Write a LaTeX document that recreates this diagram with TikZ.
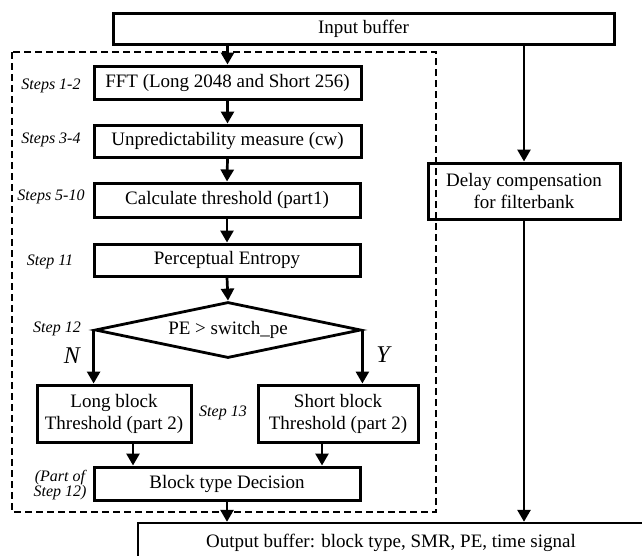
\documentclass[tikz,border=0pt]{standalone}
\usepackage{fontspec}
\setmainfont{Liberation Serif}
\usetikzlibrary{arrows.meta,shapes.geometric}
\begin{document}
\begin{tikzpicture}[x=1pt,y=-1pt,
  box/.style={draw, line width=3pt, inner sep=0pt, align=center,
              font=\fontsize{19}{22}\selectfont},
  arr/.style={line width=2.7pt, -{Triangle[width=13pt,length=12pt]}},
  lbl/.style={inner sep=0pt, align=center, font=\fontsize{16}{15}\selectfont\itshape},
  yn/.style={inner sep=0pt, font=\fontsize{24}{26}\selectfont\itshape},
  group/.style={draw, dashed, line width=2pt, dash pattern=on 7pt off 4pt},
]
\clip (0,0) rectangle (642,555);

% dashed frame round the psychoacoustic steps
\draw[group] (12,52) rectangle (436,512);

% processing blocks
\node[box, minimum width=501pt, minimum height=31pt] (in)  at (363.5,28.5) {Input buffer};
\node[box, minimum width=267pt, minimum height=33pt] (fft) at (227.5,82.5) {FFT (Long 2048 and Short 256)};
\node[box, minimum width=267pt, minimum height=32pt] (unp) at (227.5,141) {Unpredictability measure (cw)};
\node[box, minimum width=266pt, minimum height=34pt] (thr) at (227,200) {Calculate threshold (part1)};
\node[box, minimum width=266pt, minimum height=32pt] (pe)  at (227,260) {Perceptual Entropy};
\node[draw, diamond, line width=2.8pt, inner sep=0pt, aspect=4.75,
      minimum width=266pt, minimum height=56pt,
      font=\fontsize{19}{22}\selectfont] (dec) at (228,330) {PE > switch\_pe};
\node[box, minimum width=154pt, minimum height=57pt] (lng) at (114,413.5) {Long block\\Threshold (part 2)};
\node[box, minimum width=160pt, minimum height=57pt] (sht) at (338,413.5) {Short block\\Threshold (part 2)};
\node[box, minimum width=266pt, minimum height=33pt] (blk) at (227,483.5) {Block type Decision};
\node[box, minimum width=192pt, minimum height=56pt] (dly) at (524,191) {Delay compensation\\for filterbank};
\node[box, line width=2.4pt, minimum width=506pt, minimum height=40pt] (out) at (391,543)
  {Output buffer: block type, SMR, PE, time signal};

% step labels
\node[lbl] (l1)  at (51,86)   {Steps 1-2};
\node[lbl] (l2)  at (51,140)  {Steps 3-4};
\node[lbl] (l3)  at (51,197)  {Steps 5-10};
\node[lbl] (l4)  at (50,262)  {Step 11};
\node[lbl] (l5)  at (57,329)  {Step 12};
\node[lbl] (l6)  at (223,413) {Step 13};
\node[lbl] (l7)  at (60,485)  {(Part of\\Step 12)};
\node[yn]  (no)  at (72,356)  {N};
\node[yn]  (yes) at (383,355) {Y};

% connectors
\draw[arr] (fft.north |- in.south) -- (fft.north);
\draw[arr] (fft.south) -- (unp.north);
\draw[arr] (unp.south) -- (thr.north);
\draw[arr] (thr.south) -- (pe.north);
\draw[arr] (pe.south) -- (dec.north);
\draw[arr] (dec.west) -- (dec.west |- lng.north);
\draw[arr] (dec.east) -- (dec.east |- sht.north);
\draw[arr] ([xshift=19pt]lng.south) -- ([xshift=19pt]lng.south |- blk.north);
\draw[arr] ([xshift=-16pt]sht.south) -- ([xshift=-16pt]sht.south |- blk.north);
\draw[arr] (blk.south) -- (blk.south |- out.north);
\draw[arr] (dly.north |- in.south) -- (dly.north);
\draw[arr] (dly.south) -- (dly.south |- out.north);
\end{tikzpicture}
\end{document}
